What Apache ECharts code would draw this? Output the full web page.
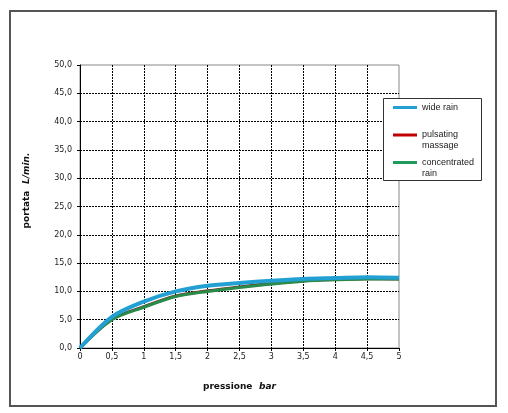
<!DOCTYPE html>
<html>
<head>
<meta charset="utf-8">
<script src="https://cdn.jsdelivr.net/npm/echarts@6/dist/echarts.min.js"></script>
<style>
  html, body { margin: 0; padding: 0; background: #fff; }
  #chart { width: 508px; height: 413px; }
</style>
</head>
<body>
<div id="chart"></div>
<script>
// pressure (bar) and flow (L/min)
const pressure = [0, 0.5, 1, 1.5, 2, 2.5, 3, 3.5, 4, 4.5, 5];
const wideRain = [0, 5.5, 8.2, 10.0, 11.0, 11.5, 11.9, 12.2, 12.35, 12.5, 12.4];
const pulsatingMassage = [0, 5.1, 7.3, 9.2, 10.1, 10.8, 11.4, 11.9, 12.1, 12.25, 12.2];
const concentratedRain = [0, 5.0, 7.2, 9.1, 10.0, 10.7, 11.3, 11.8, 12.05, 12.2, 12.2];
const seriesNames = ["wide rain", "pulsating massage", "concentrated rain"];
// blank first line keeps the first text line level with the legend stroke
const legendLabels = [" \nwide rain\n ", " \npulsating\nmassage", " \nconcentrated\nrain"];
const xTickLabels = ["0", "0,5", "1", "1,5", "2", "2,5", "3", "3,5", "4", "4,5", "5"];
const yTickLabels = ["0,0", "5,0", "10,0", "15,0", "20,0", "25,0", "30,0", "35,0", "40,0", "45,0", "50,0"];

const chart = echarts.init(document.getElementById("chart"));

const toPairs = (ys) => pressure.map((x, i) => [x, ys[i]]);
const tickFont = { fontFamily: "DejaVu Sans", fontSize: 8, color: "#222" };

const option = {
  animation: false,
  backgroundColor: "#fff",
  grid: {
    left: 80,
    right: 109,
    top: 65,
    bottom: 65,
    show: true,
    borderColor: "#888",
    borderWidth: 1,
    containLabel: false,
  },
  graphic: [
    {
      type: "rect",
      shape: { x: 10, y: 11, width: 486, height: 395 },
      style: { fill: "none", stroke: "#555", lineWidth: 2 },
      z: 0,
    },
    {
      type: "rect",
      shape: { x: 383.5, y: 98.5, width: 98, height: 82 },
      style: { fill: "#fff", stroke: "#333", lineWidth: 1 },
      z: 3,
    },
  ],
  legend: {
    orient: "vertical",
    left: 393,
    top: 91,
    padding: 0,
    itemGap: -5.5,
    itemWidth: 24,
    itemHeight: 3,
    icon: "rect",
    z: 5,
    textStyle: {
      fontFamily: "Liberation Sans",
      fontSize: 9,
      lineHeight: 11,
      color: "#222",
    },
    data: seriesNames,
    formatter: (name) => legendLabels[seriesNames.indexOf(name)],
  },
  xAxis: {
    type: "value",
    min: 0,
    max: 5,
    interval: 0.5,
    name: "{b|pressione}  {i|bar}",
    nameLocation: "middle",
    nameGap: 33,
    nameTextStyle: {
      rich: {
        b: { fontFamily: "DejaVu Sans", fontSize: 9, fontWeight: "bold", color: "#111" },
        i: { fontFamily: "DejaVu Sans", fontSize: 9, fontWeight: "bold", fontStyle: "italic", color: "#111" },
      },
    },
    axisLine: { show: true, lineStyle: { color: "#000", width: 1 } },
    axisTick: { show: true, length: 3, lineStyle: { color: "#000" } },
    axisLabel: {
      ...tickFont,
      margin: 5,
      formatter: (v) => xTickLabels[Math.round(v / 0.5)],
    },
    splitLine: {
      show: true,
      showMaxLine: false,
      lineStyle: { color: "#000", type: [2, 1], width: 1 },
    },
  },
  yAxis: {
    type: "value",
    min: 0,
    max: 50,
    interval: 5,
    name: "{b|portata}  {i|L/min.}",
    nameLocation: "middle",
    nameRotate: 90,
    nameGap: 47,
    nameTextStyle: {
      padding: [0, 0, 0, 32],
      rich: {
        b: { fontFamily: "DejaVu Sans", fontSize: 9, fontWeight: "bold", color: "#111" },
        i: { fontFamily: "DejaVu Sans", fontSize: 9, fontWeight: "bold", fontStyle: "italic", color: "#111" },
      },
    },
    axisLine: { show: true, lineStyle: { color: "#000", width: 1 } },
    axisTick: { show: true, length: 3, lineStyle: { color: "#000" } },
    axisLabel: {
      ...tickFont,
      margin: 8,
      formatter: (v) => yTickLabels[Math.round(v / 5)],
    },
    splitLine: {
      show: true,
      showMaxLine: false,
      lineStyle: { color: "#000", type: [2, 1], width: 1 },
    },
  },
  series: [
    {
      name: seriesNames[0],
      type: "line",
      data: toPairs(wideRain),
      smooth: 0.3,
      showSymbol: false,
      color: "#23a0d3",
      lineStyle: { width: 4, color: "#23a0d3" },
      z: 4,
    },
    {
      name: seriesNames[1],
      type: "line",
      data: toPairs(pulsatingMassage),
      smooth: 0.3,
      showSymbol: false,
      color: "#c00000",
      lineStyle: { width: 3, color: "#7a2a1e" },
      z: 2,
    },
    {
      name: seriesNames[2],
      type: "line",
      data: toPairs(concentratedRain),
      smooth: 0.3,
      showSymbol: false,
      color: "#1e9a5a",
      lineStyle: { width: 3, color: "#2a8a4a" },
      z: 3,
    },
  ],
};

chart.setOption(option);
</script>
</body>
</html>
